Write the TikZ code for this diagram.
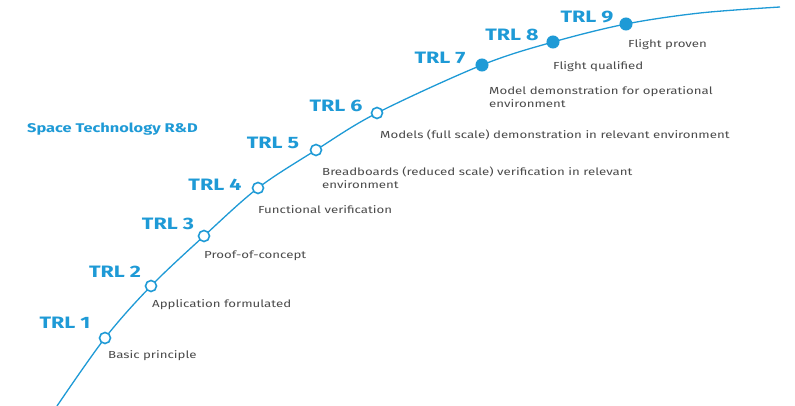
\documentclass[tikz,border=0pt]{standalone}
\usepackage{fontspec}
\setmainfont{Fira Sans}[FakeStretch=1.3]
\begin{document}
\begin{tikzpicture}[x=1pt,y=1pt,
  curve/.style={draw=bluec, line width=1.3pt},
  openpt/.style={circle, draw=bluec, fill=white, line width=1.6pt, minimum size=11pt, inner sep=0pt},
  fullpt/.style={circle, draw=bluec, fill=bluec, line width=1pt, minimum size=12pt, inner sep=0pt},
  trl/.style={text=bluec, font=\fontsize{16.5}{18}\selectfont\bfseries, inner sep=0pt},
  desc/.style={text=grayc, font=\fontsize{10.2}{13}\selectfont, anchor=west, align=left, inner sep=0pt},
]
\definecolor{bluec}{HTML}{1E9AD6}
\definecolor{grayc}{HTML}{4A4A4A}
\useasboundingbox (0,0) rectangle (795,-406);
\fill[white] (0,0) rectangle (795,-406);
% curve
\draw[curve] plot[smooth, tension=0.55] coordinates {(57,-406) (105,-338) (151,-286) (204,-236) (258,-188) (316,-150) (377,-113) (482,-65) (553,-42) (626,-24) (700,-13) (780,-7)};
% points
\node[openpt] (p1) at (105,-338) {};
\node[openpt] (p2) at (151,-286) {};
\node[openpt] (p3) at (204,-236) {};
\node[openpt] (p4) at (258,-188) {};
\node[openpt] (p5) at (316,-150) {};
\node[openpt] (p6) at (377,-113) {};
\node[fullpt] (p7) at (482,-65) {};
\node[fullpt] (p8) at (553,-42) {};
\node[fullpt] (p9) at (626,-24) {};
% TRL labels
\node[trl] (t1) at (65,-323) {TRL 1};
\node[trl] (t2) at (115,-272) {TRL 2};
\node[trl] (t3) at (168,-224) {TRL 3};
\node[trl] (t4) at (215,-185) {TRL 4};
\node[trl] (t5) at (273,-143) {TRL 5};
\node[trl] (t6) at (336,-106) {TRL 6};
\node[trl] (t7) at (440,-58) {TRL 7};
\node[trl] (t8) at (512,-35) {TRL 8};
\node[trl] (t9) at (587,-17) {TRL 9};
% descriptions
\node[desc] (d1) at (108,-356) {Basic principle};
\node[desc] (d2) at (152,-305) {Application formulated};
\node[desc] (d3) at (204,-256) {Proof-of-concept};
\node[desc] (d4) at (258,-210) {Functional verification};
\node[desc] (d5) at (322,-177.5) {Breadboards (reduced scale) verification in relevant\\environment};
\node[desc] (d6) at (380,-135) {Models (full scale) demonstration in relevant environment};
\node[desc] (d7) at (489,-97.5) {Model demonstration for operational\\environment};
\node[desc] (d8) at (553,-67) {Flight qualified};
\node[desc] (d9) at (628,-45) {Flight proven};
\node[text=bluec, font=\fontsize{12.6}{15}\selectfont\bfseries, anchor=west, inner sep=0pt] (title) at (27,-129) {Space Technology R\&D};
\end{tikzpicture}
\end{document}
